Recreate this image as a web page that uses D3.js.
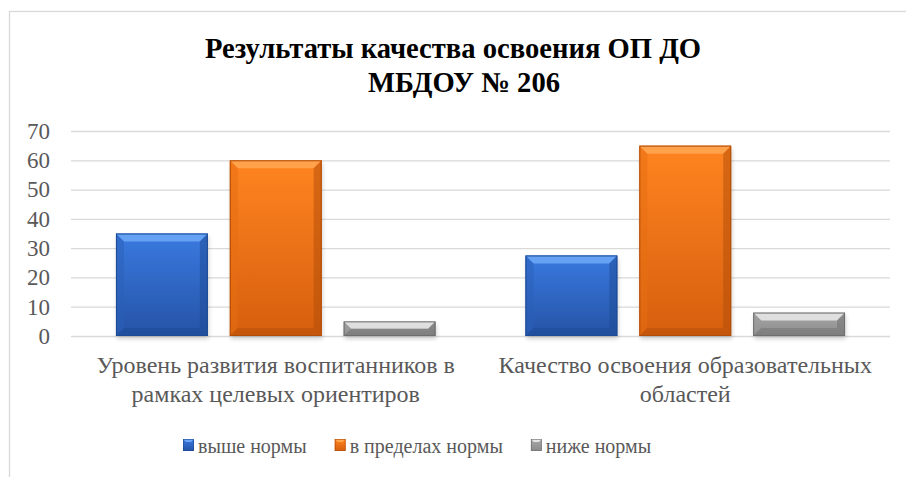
<!DOCTYPE html>
<html>
<head>
<meta charset="utf-8">
<script src="https://cdn.jsdelivr.net/npm/d3@7"></script>
<style>
  body { margin: 0; background: #fff; }
</style>
</head>
<body>
<div class="chart"></div>
<script>
// data
var categories = ['Уровень развития воспитанников в рамках целевых ориентиров',
                  'Качество освоения образовательных областей'];
var categoryLines = [['Уровень развития воспитанников в', 'рамках целевых ориентиров'],
                     ['Качество освоения образовательных', 'областей']];
var seriesNames = ['выше нормы', 'в пределах нормы', 'ниже нормы'];
var aboveNorm = [35, 27.5];
var withinNorm = [60, 65];
var belowNorm = [5, 8];
var yTicks = [0, 10, 20, 30, 40, 50, 60, 70];
var titleLines = ['Результаты качества освоения ОП ДО', 'МБДОУ № 206'];

var seriesValues = [aboveNorm, withinNorm, belowNorm];

// Liberation Serif has no cyrillic here, Tinos alias does
var FONT = "Tinos, serif";
var W = 906, H = 477;
var margin = {top: 131, right: 16, bottom: 141, left: 71};
var width = W - margin.left - margin.right;
var height = H - margin.top - margin.bottom;

// gradient top/bottom, top bevel, side and edge shades
var palette = [
    {top: '#3a7ae0', bottom: '#2553a6', bevel: '#6aa6f5', side: '#2a5fb8', edge: '#1d4a94'},
    {top: '#ff8420', bottom: '#d65f0e', bevel: '#ffa550', side: '#e56d12', edge: '#b04c08'},
    {top: '#a8a8a8', bottom: '#8a8a8a', bevel: '#e6e6e6', side: '#9a9a9a', edge: '#6e6e6e'}
];

var x0 = d3.scaleBand()
    .domain(categories)
    .range([0, width])
    .padding(0);

var x1 = d3.scaleBand()
    .domain(seriesNames)
    .range([0, x0.bandwidth()])
    .paddingInner(0.193)
    .paddingOuter(0.395);

var y = d3.scaleLinear()
    .domain([0, 70])
    .range([height, 0]);

var svg = d3.select('.chart').append('svg')
    .attr('width', W)
    .attr('height', H);

var defs = svg.append('defs');
palette.forEach(function(p, i) {
    var g = defs.append('linearGradient')
        .attr('id', 'grad' + i)
        .attr('x1', 0).attr('y1', 0).attr('x2', 0).attr('y2', 1);
    g.append('stop').attr('offset', '0%').attr('stop-color', p.top);
    g.append('stop').attr('offset', '100%').attr('stop-color', p.bottom);
});
var blur = defs.append('filter').attr('id', 'shadow')
    .attr('x', '-20%').attr('y', '-20%').attr('width', '140%').attr('height', '140%');
blur.append('feGaussianBlur').attr('stdDeviation', 2);

// chart border
svg.append('rect')
    .attr('x', 9.5).attr('y', 11.5)
    .attr('width', W).attr('height', H)
    .attr('fill', 'none')
    .attr('stroke', '#d9d9d9')
    .attr('stroke-width', 1.3);

// title
var title = svg.append('g').attr('class', 'title');
title.selectAll('text')
    .data(titleLines)
    .enter().append('text')
    .attr('x', function(d, i) { return i === 0 ? 453 : 464; })
    .attr('y', function(d, i) { return 58 + i * 34; })
    .attr('text-anchor', 'middle')
    .style('font-family', FONT)
    .style('font-size', '28.6px')
    .style('font-weight', 'bold')
    .attr('fill', '#000')
    .text(function(d) { return d; });

var plot = svg.append('g')
    .attr('transform', `translate(${margin.left},${margin.top})`);

// gridlines and y labels
var yAxis = plot.append('g')
    .attr('class', 'axis axis--y')
    .call(d3.axisLeft(y).tickValues(yTicks).tickSize(-width).tickPadding(21));
yAxis.attr('font-family', null).attr('font-size', null);
yAxis.select('.domain').remove();
yAxis.selectAll('line')
    .attr('stroke', '#d9d9d9')
    .attr('stroke-width', 1.3);
yAxis.selectAll('text')
    .attr('fill', '#595959')
    .style('font-size', '23px')
    .style('font-family', FONT);

// bars
var groups = plot.selectAll('.group')
    .data(categories)
    .enter().append('g')
    .attr('class', 'group')
    .attr('transform', d => `translate(${x0(d)},0)`);

var bars = groups.selectAll('.bar')
    .data(function(c, ci) {
        return seriesNames.map(function(s, si) {
            return {series: s, si: si, value: seriesValues[si][ci]};
        });
    })
    .enter().append('g')
    .attr('class', 'bar');

var bev = 8;
bars.each(function(d) {
    var g = d3.select(this);
    var p = palette[d.si];
    var bx = x1(d.series), bw = x1.bandwidth();
    var by = y(d.value), bh = y(0) - y(d.value);
    var b = Math.min(bev, bh / 2);

    g.append('rect')
        .attr('x', bx + 1).attr('y', by + 3)
        .attr('width', bw).attr('height', bh)
        .attr('fill', '#000').attr('opacity', 0.18)
        .attr('filter', 'url(#shadow)');
    g.append('rect')
        .attr('x', bx).attr('y', by)
        .attr('width', bw).attr('height', bh)
        .attr('fill', 'url(#grad' + d.si + ')');
    // top bevel
    g.append('polygon')
        .attr('points', [[bx, by], [bx + bw, by], [bx + bw - b, by + b], [bx + b, by + b]].join(' '))
        .attr('fill', p.bevel).attr('opacity', 0.9);
    // left / right bevels
    g.append('polygon')
        .attr('points', [[bx, by], [bx + b, by + b], [bx + b, by + bh - b], [bx, by + bh]].join(' '))
        .attr('fill', p.side).attr('opacity', 0.5);
    g.append('polygon')
        .attr('points', [[bx + bw, by], [bx + bw - b, by + b], [bx + bw - b, by + bh - b], [bx + bw, by + bh]].join(' '))
        .attr('fill', p.edge).attr('opacity', 0.5);
    // bottom bevel
    g.append('polygon')
        .attr('points', [[bx, by + bh], [bx + b, by + bh - b], [bx + bw - b, by + bh - b], [bx + bw, by + bh]].join(' '))
        .attr('fill', p.edge).attr('opacity', 0.45);
    g.append('rect')
        .attr('x', bx + 0.5).attr('y', by + 0.5)
        .attr('width', bw - 1).attr('height', bh - 1)
        .attr('fill', 'none')
        .attr('stroke', p.edge).attr('stroke-width', 1);
});

// category labels, one text per line
var xLabels = plot.append('g').attr('class', 'axis axis--x');
categories.forEach(function(c, i) {
    var cx = x0(c) + x0.bandwidth() / 2;
    xLabels.selectAll('.lbl' + i)
        .data(categoryLines[i])
        .enter().append('text')
        .attr('class', 'lbl' + i)
        .attr('x', cx)
        .attr('y', (d, li) => height + 37 + li * 29)
        .attr('text-anchor', 'middle')
        .attr('fill', '#595959')
        .style('font-family', FONT)
        .style('font-size', '24px')
        .text(d => d);
});

// legend
var legend = svg.append('g').attr('class', 'legend');
var lx = 183;
seriesNames.forEach(function(s, i) {
    var p = palette[i];
    var item = legend.append('g').attr('transform', `translate(${lx},0)`);
    item.append('rect')
        .attr('x', 0).attr('y', 439)
        .attr('width', 11).attr('height', 12)
        .attr('fill', 'url(#grad' + i + ')');
    item.append('polygon')
        .attr('points', [[0, 439], [11, 439], [8, 442], [3, 442]].join(' '))
        .attr('fill', p.bevel);
    item.append('rect')
        .attr('x', 0.5).attr('y', 439.5)
        .attr('width', 10).attr('height', 11)
        .attr('fill', 'none').attr('stroke', p.edge).attr('stroke-width', 0.6);
    var txt = item.append('text')
        .attr('x', 15).attr('y', 453)
        .attr('fill', '#595959')
        .style('font-family', FONT)
        .style('font-size', '20px')
        .text(s);
    lx += 15 + txt.node().getComputedTextLength() + 28;
});
</script>
</body>
</html>
